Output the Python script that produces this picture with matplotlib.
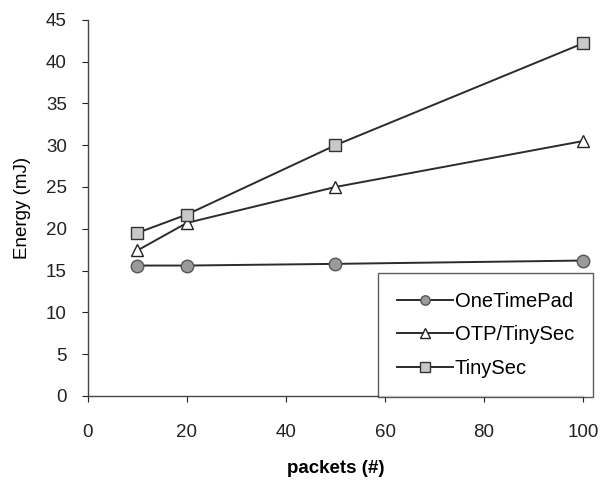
import matplotlib.pyplot as plt

plt.rcParams['font.family'] = ['Liberation Sans', 'DejaVu Sans']

packets = [10, 20, 50, 100]
one_time_pad = [15.6, 15.6, 15.8, 16.2]
otp_tinysec = [17.4, 20.7, 25.0, 30.5]
tinysec = [19.5, 21.7, 30.0, 42.2]

fig = plt.figure(figsize=(6.05, 4.84), dpi=100)
ax = fig.add_axes([0.145, 0.182, 0.819, 0.777])

line_col = "#2b2b2b"
ax.plot(packets, one_time_pad, color=line_col, lw=1.4, marker="o", ms=9,
        mfc="#9a9a9a", mec="#555555", label="OneTimePad", clip_on=False)
ax.plot(packets, otp_tinysec, color=line_col, lw=1.4, marker="^", ms=9,
        mfc="white", mec="#222222", label="OTP/TinySec", clip_on=False)
ax.plot(packets, tinysec, color=line_col, lw=1.4, marker="s", ms=9,
        mfc="#c8c8c8", mec="#333333", label="TinySec", clip_on=False)

ax.set_xlim(0, 100)
ax.set_ylim(0, 45)
ax.set_xticks(range(0, 101, 20))
ax.set_yticks(range(0, 46, 5))
ax.tick_params(labelsize=13.5, length=4, width=0.8, colors="#222222")
ax.tick_params(axis="y", pad=11)
ax.tick_params(axis="x", pad=16)

for s in ["top", "right"]:
    ax.spines[s].set_visible(False)
for s in ["left", "bottom"]:
    ax.spines[s].set_color("#444444")
    ax.spines[s].set_linewidth(1.0)

ax.set_ylabel("Energy (mJ)", fontsize=13.5, labelpad=11)
ax.set_xlabel("packets (#)", fontsize=13.5, fontweight="bold", labelpad=14)

leg = ax.legend(loc="lower right", bbox_to_anchor=(1.02, -0.003), fontsize=14.5,
                frameon=True, fancybox=False, edgecolor="#333333",
                handlelength=2.75, labelspacing=0.72, borderpad=0.95,
                handletextpad=0.1, markerscale=0.75, borderaxespad=0)
leg.get_frame().set_linewidth(1.0)

fig.savefig("out.png", dpi=100)
